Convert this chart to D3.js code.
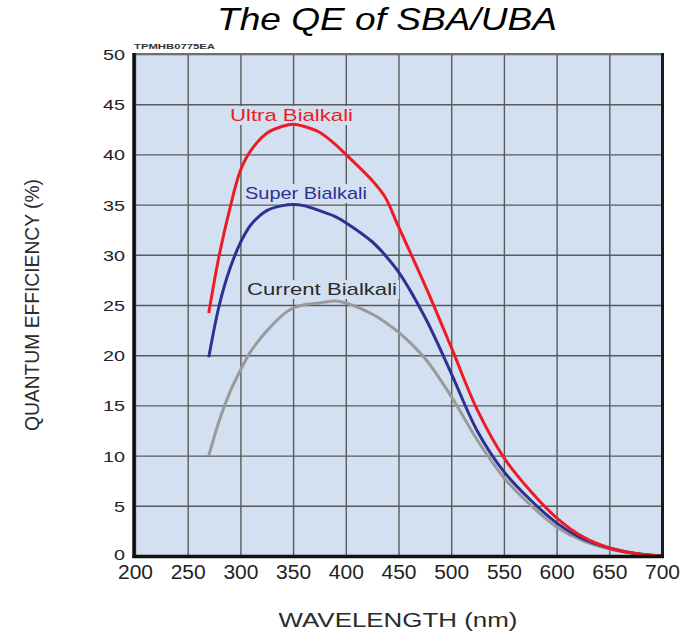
<!DOCTYPE html>
<html>
<head>
<meta charset="utf-8">
<script src="https://cdn.jsdelivr.net/npm/d3@7/dist/d3.min.js"></script>
<style>
  html, body { margin: 0; padding: 0; background: #fff; }
  svg { display: block; font-family: "Liberation Sans", Arial, sans-serif; }
</style>
</head>
<body>
<svg id="chart" width="682" height="632"></svg>
<script>
// Wavelength samples (nm) shared by the three photocathode curves
const wavelengths = [270, 280, 290, 300, 310, 325, 340, 350, 360, 375, 390, 400, 425, 437, 450, 475, 500, 525, 550, 575, 600, 625, 650, 675, 700];

// Quantum efficiency (%) for each photocathode type
const ultraBialkali   = [24.2, 30.0, 34.6, 38.4, 40.4, 42.1, 42.8, 43.0, 42.8, 42.2, 41.0, 40.0, 37.4, 35.8, 32.8, 27.0, 20.8, 14.5, 9.8, 6.5, 3.8, 1.9, 0.8, 0.25, 0.0];
const superBialkali   = [19.8, 25.0, 28.6, 31.2, 33.0, 34.4, 34.9, 35.0, 34.9, 34.4, 33.8, 33.2, 31.3, 30.0, 28.3, 23.8, 18.2, 12.4, 8.4, 5.6, 3.3, 1.7, 0.8, 0.25, 0.0];
const currentBialkali = [10.0, 13.5, 16.3, 18.5, 20.4, 22.4, 24.0, 24.7, 25.0, 25.2, 25.4, 25.2, 24.1, 23.3, 22.3, 19.7, 15.9, 11.5, 7.8, 5.1, 2.9, 1.5, 0.7, 0.25, 0.0];

const seriesNames  = ["Ultra Bialkali", "Super Bialkali", "Current Bialkali"];
const seriesValues = [ultraBialkali, superBialkali, currentBialkali];

// Axis ticks
const xTicks = [200, 250, 300, 350, 400, 450, 500, 550, 600, 650, 700];
const yTicks = [0, 5, 10, 15, 20, 25, 30, 35, 40, 45, 50];

const svg = d3.select("#chart");

const plot = { left: 135, top: 54, right: 662, bottom: 556 };
const x = d3.scaleLinear().domain([200, 700]).range([plot.left, plot.right]);
const y = d3.scaleLinear().domain([0, 50]).range([plot.bottom, plot.top]);

const plotBg = "#d3e0f1";
const colors = ["#ed1c24", "#2e3192", "#9a9a9a"];
const labelColors = ["#ed1c24", "#2e3192", "#2b2b2b"];

// Title
svg.append("text")
  .attr("x", 387).attr("y", 30)
  .attr("text-anchor", "middle")
  .attr("font-size", 32)
  .attr("font-style", "italic")
  .attr("fill", "#000")
  .attr("textLength", 340)
  .attr("lengthAdjust", "spacingAndGlyphs")
  .text("The QE of SBA/UBA");

// Plot background
svg.append("rect")
  .attr("x", plot.left).attr("y", plot.top)
  .attr("width", plot.right - plot.left)
  .attr("height", plot.bottom - plot.top)
  .attr("fill", plotBg);

// Grid lines drawn by the axis generators
const gridX = svg.append("g")
  .attr("transform", `translate(0,${plot.bottom})`)
  .call(d3.axisBottom(x).tickValues(xTicks).tickSize(-(plot.bottom - plot.top)).tickFormat(""));
const gridY = svg.append("g")
  .attr("transform", `translate(${plot.left},0)`)
  .call(d3.axisLeft(y).tickValues(yTicks).tickSize(-(plot.right - plot.left)).tickFormat(""));
[gridX, gridY].forEach(g => {
  g.select(".domain").remove();
  g.selectAll("line").attr("stroke", "#5a5a5a").attr("stroke-width", 1.4);
});

// Curve labels with a background patch over the grid
const labelPos = [
  { x: 230, y: 121, len: 123 },
  { x: 245, y: 199, len: 122 },
  { x: 247, y: 295, len: 150 }
];
seriesNames.forEach((name, i) => {
  const p = labelPos[i];
  svg.append("rect")
    .attr("x", p.x - 2).attr("y", p.y - 15)
    .attr("width", p.len + 4).attr("height", 19)
    .attr("fill", plotBg);
  svg.append("text")
    .attr("x", p.x).attr("y", p.y)
    .attr("font-size", 17)
    .attr("fill", labelColors[i])
    .attr("textLength", p.len)
    .attr("lengthAdjust", "spacingAndGlyphs")
    .text(name);
});

// Curves
const line = d3.line()
  .x(d => x(d[0]))
  .y(d => y(d[1]))
  .curve(d3.curveCatmullRom.alpha(0.5));

// draw grey first so the coloured curves sit on top
[2, 1, 0].forEach(i => {
  svg.append("path")
    .datum(wavelengths.map((w, k) => [w, seriesValues[i][k]]))
    .attr("fill", "none")
    .attr("stroke", colors[i])
    .attr("stroke-width", 3)
    .attr("stroke-linejoin", "round")
    .attr("d", line);
});

// Frame
svg.append("line").attr("x1", plot.left).attr("x2", plot.right + 1.5)
  .attr("y1", plot.top).attr("y2", plot.top)
  .attr("stroke", "#6f6f6f").attr("stroke-width", 2);
svg.append("line").attr("x1", plot.right + 0.5).attr("x2", plot.right + 0.5)
  .attr("y1", plot.top - 1).attr("y2", plot.bottom + 2)
  .attr("stroke", "#1a1a1a").attr("stroke-width", 3);
svg.append("line").attr("x1", plot.left - 1).attr("x2", plot.left - 1)
  .attr("y1", plot.top - 1).attr("y2", plot.bottom + 2)
  .attr("stroke", "#111").attr("stroke-width", 3.5);
svg.append("line").attr("x1", plot.left - 2.5).attr("x2", plot.right + 2)
  .attr("y1", plot.bottom + 0.5).attr("y2", plot.bottom + 0.5)
  .attr("stroke", "#111").attr("stroke-width", 3.5);

// Tick labels
const xAxis = svg.append("g")
  .attr("transform", `translate(0,${plot.bottom})`)
  .call(d3.axisBottom(x).tickValues(xTicks).tickSize(0).tickPadding(0));
xAxis.select(".domain").remove();
xAxis.selectAll("text")
  .attr("dy", null)
  .attr("y", 23)
  .attr("font-size", 20)
  .attr("font-family", "Liberation Sans, Arial, sans-serif")
  .attr("fill", "#222")
  .attr("textLength", 35)
  .attr("lengthAdjust", "spacingAndGlyphs");

const yAxis = svg.append("g")
  .attr("transform", `translate(${plot.left},0)`)
  .call(d3.axisLeft(y).tickValues(yTicks).tickSize(0).tickPadding(0));
yAxis.select(".domain").remove();
yAxis.selectAll("text")
  .attr("x", -10)
  .attr("dy", d => d === 0 ? "0.2em" : "0.36em")
  .attr("font-size", 15)
  .attr("font-family", "Liberation Sans, Arial, sans-serif")
  .attr("fill", "#222")
  .attr("textLength", d => d >= 10 ? 22 : 11)
  .attr("lengthAdjust", "spacingAndGlyphs");

// Figure code
svg.append("text")
  .attr("x", 134).attr("y", 48.5)
  .attr("font-size", 8)
  .attr("font-weight", "bold")
  .attr("fill", "#333")
  .attr("textLength", 81)
  .attr("lengthAdjust", "spacingAndGlyphs")
  .text("TPMHB0775EA");

// Axis titles
svg.append("text")
  .attr("x", 398).attr("y", 627)
  .attr("text-anchor", "middle")
  .attr("font-size", 21)
  .attr("fill", "#2b2b2b")
  .attr("textLength", 239)
  .attr("lengthAdjust", "spacingAndGlyphs")
  .text("WAVELENGTH (nm)");

svg.append("text")
  .attr("transform", "translate(39,305) rotate(-90)")
  .attr("text-anchor", "middle")
  .attr("font-size", 21)
  .attr("fill", "#2b2b2b")
  .attr("textLength", 252)
  .attr("lengthAdjust", "spacingAndGlyphs")
  .text("QUANTUM EFFICIENCY (%)");
</script>
</body>
</html>
